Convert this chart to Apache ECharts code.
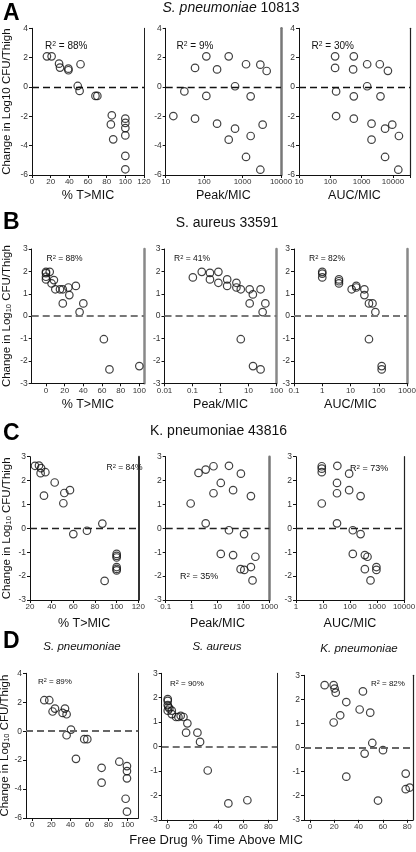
<!DOCTYPE html>
<html><head><meta charset="utf-8">
<script src="https://cdn.jsdelivr.net/npm/echarts@6/dist/echarts.min.js"></script>
<style>html,body{margin:0;padding:0;background:#fff}#c{width:416px;height:852px}</style>
</head><body><div id="c"></div>
<script>
// ---------- DATA ----------
// Row A: S. pneumoniae 10813
const a1X = [16,21,29,30,39,39,52,49,51,68,70,85.5,84.5,87,100,100,100,100,100,100];
const a1Y = [2.09,2.09,1.59,1.32,1.25,1.14,1.55,0.07,-0.27,-0.61,-0.61,-1.93,-2.55,-3.57,-2.16,-2.45,-2.8,-3.3,-4.7,-5.61];
const a2X = [15.8,30.6,58,58,114,114,217,217,436,436,637,637,1230,1230,1625,1625,2900,2900,3330,4240];
const a2Y = [-1.98,-0.3,1.3,-2.16,2.09,-0.61,1.2,-2.5,2.09,-3.59,0.05,-2.84,1.55,-4.77,-0.64,-3.34,1.52,-5.64,-2.57,1.09];
const a3X = [142,142,153,153,562,535,562,562,1500,1500,2070,2070,3800,4000,5600,5600,6900,9500,15500,14800];
const a3Y = [2.09,1.3,-0.3,-1.98,2.09,1.2,-0.64,-2.16,1.55,0.05,-2.5,-3.59,1.55,-0.64,-2.84,-4.77,1.1,-2.57,-3.34,-5.64];
// Row B: S. aureus 33591
const b1X = [0,0,0,0,4,6,8.5,10,15,18,24,25,32,18,40,36,62,68,100];
const b1Y = [1.98,1.92,1.76,1.64,1.98,1.46,1.61,1.2,1.2,1.2,1.28,0.94,1.35,0.57,0.57,0.18,-1.03,-2.38,-2.23];
const b2X = [0.103,0.214,0.42,0.42,0.84,0.84,1.73,1.73,3.7,3.7,5.3,11,14.3,27,11,40,32,5.3,14.5,27];
const b2Y = [1.73,1.98,1.93,1.64,1.98,1.49,1.64,1.35,1.49,1.28,1.2,1.2,0.97,1.2,0.57,0.57,0.18,-1.03,-2.23,-2.38];
const b3X = [1,1,1,3.9,3.9,3.9,11,16,16,31,31,45,60,76,45,127,127];
const b3Y = [1.98,1.9,1.73,1.64,1.56,1.46,1.2,1.35,1.28,1.2,0.94,0.57,0.57,0.18,-1.03,-2.23,-2.38];
// Row C: K. pneumoniae 43816
const c1X = [24.6,28.3,30.2,29.8,34.2,32.9,42.8,51.7,50.8,56.9,60,72.6,86.8,88.9,100,100,100,100,100,100];
const c1Y = [2.62,2.63,2.52,2.31,2.35,1.37,1.92,1.48,1.05,1.6,-0.24,-0.1,0.2,-2.2,-1.07,-1.15,-1.22,-1.62,-1.7,-1.76];
const c2X = [0.92,1.85,3.5,3.5,7,7,13.4,13.4,27.7,27.7,40,40,80,78,106,108,195,195,225,290];
const c2Y = [1.04,2.32,2.46,0.21,2.6,1.47,1.9,-1.07,2.62,-0.08,1.6,-1.12,2.29,-1.71,-0.24,-1.74,1.35,-1.62,-2.18,-1.19];
const c3X = [9,9,9,9,34,33,33,33,93,93,127,127,247,247,355,355,445,575,950,950];
const c3Y = [2.6,2.5,2.35,1.04,2.62,1.9,1.47,0.21,2.29,1.6,-0.08,-1.07,1.35,-0.24,-1.12,-1.71,-1.19,-2.18,-1.62,-1.74];
// Row D: free drug % time above MIC
const d1X = [12.6,17.8,21.3,23.8,31.8,34.3,36,40.6,36,45.8,54.5,57.7,72.7,72.7,91.3,99.3,99.3,99.3,97.9,99.3];
const d1Y = [2.14,2.14,1.36,1.56,1.26,1.56,1.17,0.11,-0.28,-1.91,-0.55,-0.55,-2.53,-3.56,-2.11,-2.41,-2.76,-3.26,-4.67,-5.56];
const d2X = [0,0,0,0.5,1.3,0,3.2,3.2,6.6,8.5,10.3,12.5,15.6,14.6,23.6,25.7,31.8,48.2,63.3];
const d2Y = [1.94,1.87,1.7,1.63,1.56,1.47,1.47,1.33,1.21,1.21,1.26,1.21,0.95,0.57,0.57,0.19,-0.98,-2.33,-2.2];
const d3X = [12.1,19.5,20.3,21.2,29.9,24.9,19.5,43.6,40.9,49.6,51.3,45,60.1,29.9,56,78.8,78.8,82.1];
const d3Y = [2.59,2.59,2.45,2.28,1.89,1.34,1.04,2.33,1.58,1.45,0.19,-0.25,-0.11,-1.21,-2.2,-1.08,-1.73,-1.66];

// tick labels
const ticksB1 = [0,20,40,60,80,100];
const ticksD1 = [0,20,40,60,80,100];
const ticksD23 = [0,20,40,60,80];

// texts
const rowTitles = ['S. pneumoniae', 'S. aureus 33591', 'K. pneumoniae 43816'];
const r2Texts = ['88%','9%','30%','88%','41%','82%','84%','35%','73%','89%','90%','82%'];
const yName = 'Change in Log10 CFU/Thigh';
const yNameSub = 'Change in Log{sub|10} CFU/Thigh';

// ---------- BUILD ----------
const FONT = '"Liberation Sans", Arial, Helvetica, sans-serif';
const grids = [], xAxes = [], yAxes = [], series = [], titles = [];

function fmtLog(v){
  const l = Math.log10(v);
  if (Math.abs(l - Math.round(l)) > 1e-6) return '';
  const p = Math.round(l);
  return p < 0 ? v.toFixed(-p) : String(Math.round(v));
}

function addPanel(p){
  const gi = grids.length;
  grids.push({left:p.left, top:p.top, width:p.width, height:p.height, containLabel:false, outerBoundsMode:'none'});
  const xa = {
    gridIndex:gi, type:p.xType, min:p.xMin, max:p.xMax, splitLine:{show:false},
    axisLine:{show:true, onZero:false, lineStyle:{color:'#111', width:1}},
    axisTick:{show:true, inside:false, length:3, lineStyle:{color:'#111'}},
    axisLabel:{fontSize:8, color:'#333', margin:3, fontFamily:FONT, hideOverlap:false},
    minorTick:{show:false}
  };
  if (p.xName){
    xa.name = p.xName; xa.nameLocation = 'middle'; xa.nameGap = p.xNameGap;
    xa.nameTextStyle = {fontSize:12.5, color:'#111', fontFamily:FONT, fontWeight:'normal'};
  }
  if (p.xType === 'log'){ xa.logBase = 10; xa.axisLabel.formatter = fmtLog; }
  else if (p.xTicks){ xa.axisLabel.customValues = p.xTicks; xa.axisTick.customValues = p.xTicks; }
  else { xa.interval = p.xInterval; }
  xAxes.push(xa);
  const ya = {
    gridIndex:gi, type:'value', min:p.yMin, max:p.yMax, interval:p.yInterval, splitLine:{show:false},
    axisLine:{show:true, onZero:false, lineStyle:{color:'#111', width:1}},
    axisTick:{show:true, inside:false, length:3, lineStyle:{color:'#111'}},
    axisLabel:{fontSize:8.5, color:'#333', margin:4, fontFamily:FONT}
  };
  if (p.yName){
    ya.name = p.yName; ya.nameLocation = 'middle'; ya.nameRotate = 90; ya.nameGap = p.yNameGap;
    ya.nameTextStyle = {fontSize:11.5, color:'#111', fontFamily:FONT, fontWeight:'normal',
      rich:{sub:{fontSize:7.5, fontFamily:FONT, color:'#111', fontWeight:'normal', verticalAlign:'bottom'}}};
  }
  yAxes.push(ya);
  yAxes.push({gridIndex:gi, type:'value', position:'right', min:0, max:1,
    axisLine:{show:true, onZero:false, lineStyle:{color:p.rc, width:p.rw}},
    axisTick:{show:false}, axisLabel:{show:false}, splitLine:{show:false}});
  series.push({
    type:'scatter', xAxisIndex:gi, yAxisIndex:2*gi,
    data:p.x.map((v,i)=>[v, p.y[i]]),
    symbol:'circle', symbolSize:7.5, z:3,
    itemStyle:{color:'rgba(0,0,0,0)', borderColor:'#111', borderWidth:1.2},
    emphasis:{disabled:true},
    markLine:{silent:true, symbol:['none','none'], label:{show:false}, animation:false,
      lineStyle:{type:[7,4], color:p.dc, width:p.dw}, data:[{yAxis:0}]}
  });
  // R^2 label
  const fs = p.r2fs;
  titles.push({text:'{t|R}{s|2}{t| = ' + p.r2 + '}', left:p.r2x, top:p.r2y, padding:0,
    textAlign:'left', textVerticalAlign:'middle',
    textStyle:{fontWeight:'normal', rich:{t:{fontSize:fs, fontFamily:FONT, color:'#111', fontWeight:'normal'},
                     s:{fontSize:fs*0.68, fontFamily:FONT, color:'#111', fontWeight:'normal', verticalAlign:'top'}}}});
}

// Row A
const rowA = {top:28.3, height:146.7, yMin:-6, yMax:4, yInterval:2, xNameGap:14, dc:'#111', dw:1.3, r2fs:10, r2y:46};
addPanel(Object.assign({}, rowA, {left:32, width:112, xType:'value', xMin:0, xMax:120, xInterval:20, x:a1X, y:a1Y,
  xName:'% T>MIC', yName:yName, yNameGap:19, rc:'#222', rw:1, r2:r2Texts[0], r2x:45}));
addPanel(Object.assign({}, rowA, {left:165.7, width:115.3, xType:'log', xMin:10, xMax:10000, x:a2X, y:a2Y,
  xName:'Peak/MIC', rc:'#777', rw:2.5, r2:r2Texts[1], r2x:176.5}));
addPanel(Object.assign({}, rowA, {left:299, width:111, xType:'log', xMin:10, xMax:35000, x:a3X, y:a3Y,
  xName:'AUC/MIC', rc:'#222', rw:1.2, r2:r2Texts[2], r2x:311.5}));

// Row B
const rowB = {top:249, height:134.3, yMin:-3, yMax:3, yInterval:1, xNameGap:15, dc:'#777', dw:2, r2fs:8.5, r2y:259};
addPanel(Object.assign({}, rowB, {left:31.7, width:112.3, xType:'value', xMin:-15.3, xMax:105, xTicks:ticksB1, x:b1X, y:b1Y,
  xName:'% T>MIC', yName:yNameSub, yNameGap:19, rc:'#888', rw:2.5, r2:r2Texts[3], r2x:46.5}));
addPanel(Object.assign({}, rowB, {left:164.5, width:112, xType:'log', xMin:0.01, xMax:100, x:b2X, y:b2Y,
  xName:'Peak/MIC', rc:'#888', rw:2.5, r2:r2Texts[4], r2x:174}));
addPanel(Object.assign({}, rowB, {left:294, width:113, xType:'log', xMin:0.1, xMax:1000, x:b3X, y:b3Y,
  xName:'AUC/MIC', rc:'#888', rw:2.5, r2:r2Texts[5], r2x:309}));

// Row C
const rowC = {top:456.7, height:143.3, yMin:-3, yMax:3, yInterval:1, xNameGap:17, dc:'#222', dw:1.3, r2fs:8.5};
addPanel(Object.assign({}, rowC, {left:30, width:108.3, xType:'value', xMin:20, xMax:120, xInterval:20, x:c1X, y:c1Y,
  xName:'% T>MIC', yName:yNameSub, yNameGap:17, rc:'#333', rw:2, r2:r2Texts[6], r2x:106.5, r2y:468}));
addPanel(Object.assign({}, rowC, {left:165.7, width:103.6, xType:'log', xMin:0.1, xMax:1000, x:c2X, y:c2Y,
  xName:'Peak/MIC', rc:'#777', rw:2.5, r2:r2Texts[7], r2x:180, r2y:577, r2fs:9}));
addPanel(Object.assign({}, rowC, {left:296, width:108, xType:'log', xMin:1, xMax:10000, x:c3X, y:c3Y,
  xName:'AUC/MIC', rc:'#222', rw:1.2, r2:r2Texts[8], r2x:350, r2y:469, r2fs:9}));

// Row D
addPanel({left:26, top:673.3, width:112.3, height:144.7, yMin:-6, yMax:4, yInterval:2,
  xType:'value', xMin:-6.6, xMax:111.2, xTicks:ticksD1, x:d1X, y:d1Y, yName:yNameSub, yNameGap:13,
  rc:'#222', rw:1, dc:'#666', dw:1.8, r2:r2Texts[9], r2x:38, r2y:682, r2fs:8});
addPanel({left:161.7, top:673.3, width:115.6, height:146.5, yMin:-3, yMax:3, yInterval:1,
  xType:'value', xMin:-4.8, xMax:87.1, xTicks:ticksD23, x:d2X, y:d2Y,
  rc:'#222', rw:1, dc:'#444', dw:1.5, r2:r2Texts[10], r2x:170, r2y:684, r2fs:8});
addPanel({left:304, top:675.3, width:109, height:144.5, yMin:-3, yMax:3, yInterval:1,
  xType:'value', xMin:-4.9, xMax:84.8, xTicks:ticksD23, x:d3X, y:d3Y,
  rc:'#222', rw:1.2, dc:'#666', dw:1.8, r2:r2Texts[11], r2x:371, r2y:684, r2fs:8});

// Panel letters
const letterStyle = {fontSize:23, fontWeight:900, fontFamily:FONT, color:'#000'};
titles.push({text:'A', left:3, top:2, padding:0, textStyle:letterStyle});
titles.push({text:'B', left:3, top:211, padding:0, textStyle:letterStyle});
titles.push({text:'C', left:3, top:422, padding:0, textStyle:letterStyle});
titles.push({text:'D', left:3, top:630, padding:0, textStyle:letterStyle});

// Row titles
const rt = {fontSize:14, fontFamily:FONT, color:'#111', fontWeight:'normal'};
titles.push({text:'{i|' + rowTitles[0] + '}{n| 10813}', left:231, top:8, padding:0, textAlign:'center', textVerticalAlign:'middle',
  textStyle:Object.assign({}, rt, {rich:{i:Object.assign({}, rt, {fontStyle:'italic'}), n:Object.assign({}, rt)}})});
titles.push({text:rowTitles[1], left:227, top:223, padding:0, textAlign:'center', textVerticalAlign:'middle', textStyle:rt});
titles.push({text:rowTitles[2], left:218.5, top:431.5, padding:0, textAlign:'center', textVerticalAlign:'middle', textStyle:rt});

// Row D subtitles and x name
const st = {fontSize:11.5, fontFamily:FONT, color:'#111', fontStyle:'italic', fontWeight:'normal'};
titles.push({text:'S. pneumoniae', left:82, top:647, padding:0, textAlign:'center', textVerticalAlign:'middle', textStyle:st});
titles.push({text:'S. aureus', left:217, top:647, padding:0, textAlign:'center', textVerticalAlign:'middle', textStyle:st});
titles.push({text:'K. pneumoniae', left:359, top:649, padding:0, textAlign:'center', textVerticalAlign:'middle', textStyle:st});
titles.push({text:'Free Drug % Time Above MIC', left:216, top:840, padding:0, textAlign:'center', textVerticalAlign:'middle',
  textStyle:{fontSize:13, fontFamily:FONT, color:'#111', fontWeight:'normal'}});

const chart = echarts.init(document.getElementById('c'), null, {renderer:'canvas'});
chart.setOption({
  animation:false,
  backgroundColor:'#fff',
  textStyle:{fontFamily:FONT},
  title:titles,
  grid:grids,
  xAxis:xAxes,
  yAxis:yAxes,
  series:series
});
</script>
</body></html>
